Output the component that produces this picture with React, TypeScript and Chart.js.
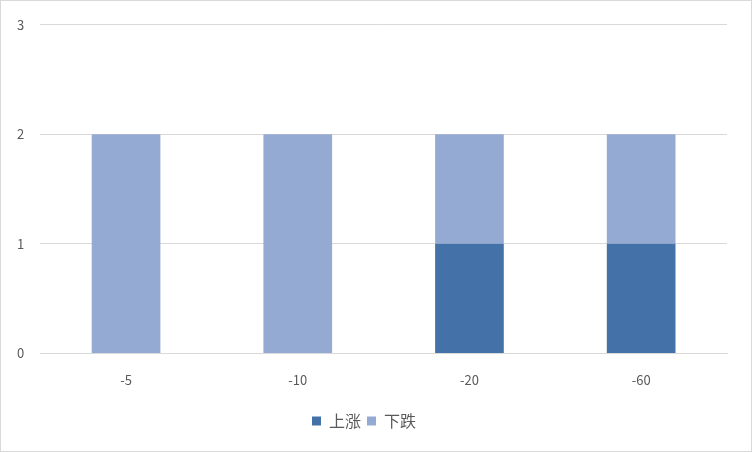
import { useEffect, useRef } from 'react';
import Chart from 'chart.js/auto';

const categories = ['-5', '-10', '-20', '-60'];
const riseValues = [0, 0, 1, 1];
const fallValues = [2, 2, 1, 1];
const seriesNames = ['上涨', '下跌'];

const FONT = '"Noto Sans CJK SC", "DejaVu Sans", sans-serif';

export default function App() {
  const canvasRef = useRef<HTMLCanvasElement | null>(null);

  useEffect(() => {
    document.body.style.margin = '0';
    let chart: Chart | null = null;
    if (canvasRef.current) {
      chart = new Chart(canvasRef.current, {
        type: 'bar',
        data: {
          labels: categories,
          datasets: [
            {
              label: seriesNames[0],
              data: riseValues,
              backgroundColor: '#4472a8',
              barPercentage: 0.4,
              categoryPercentage: 1,
            },
            {
              label: seriesNames[1],
              data: fallValues,
              backgroundColor: '#95aad2',
              barPercentage: 0.4,
              categoryPercentage: 1,
            },
          ],
        },
        options: {
          animation: false,
          responsive: true,
          maintainAspectRatio: false,
          layout: { padding: { left: 0, right: 24, top: 11, bottom: 12 } },
          scales: {
            x: {
              stacked: true,
              grid: { display: false, drawTicks: false },
              border: { display: true, color: '#d9d9d9' },
              ticks: { color: '#595959', font: { family: FONT, size: 13 }, padding: 19 },
            },
            y: {
              stacked: true,
              min: 0,
              max: 3,
              grid: { color: '#d9d9d9', drawTicks: false },
              border: { display: false },
              ticks: { stepSize: 1, color: '#595959', font: { family: FONT, size: 13 }, padding: 16 },
            },
          },
          plugins: {
            legend: {
              position: 'bottom',
              labels: {
                color: '#595959',
                font: { family: FONT, size: 16 },
                boxWidth: 9,
                boxHeight: 9,
                padding: 6,
              },
            },
            tooltip: { enabled: false },
          },
        },
      });
    }
    return () => {
      chart?.destroy();
    };
  }, []);

  return (
    <div
      style={{
        width: 750,
        height: 450,
        border: '1px solid #d9d9d9',
        background: '#fff',
        position: 'relative',
      }}
    >
      <canvas ref={canvasRef} />
    </div>
  );
}
